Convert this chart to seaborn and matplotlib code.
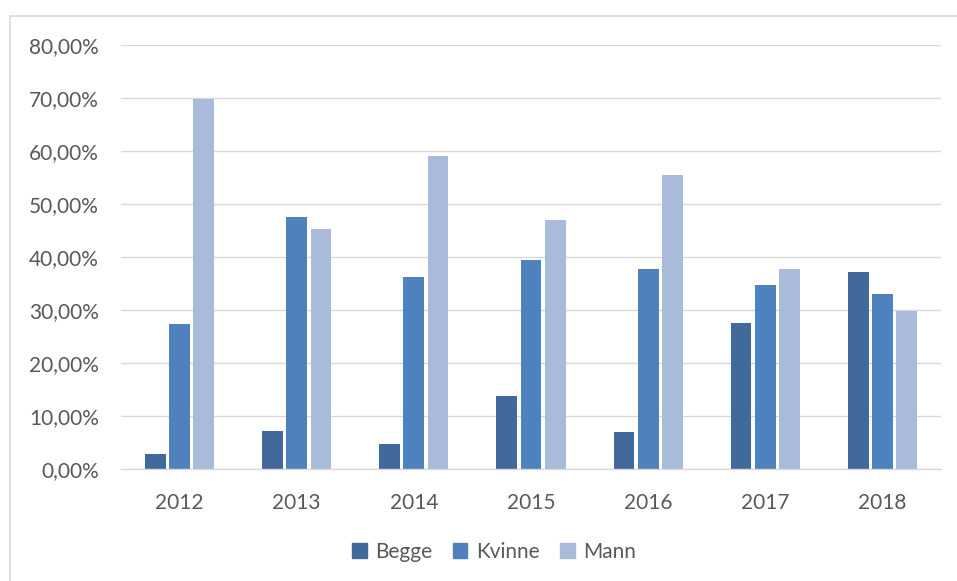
import matplotlib
matplotlib.use("Agg")
import matplotlib.pyplot as plt
import matplotlib.ticker as mticker
from matplotlib.lines import Line2D
import seaborn as sns
import pandas as pd

years = ["2012", "2013", "2014", "2015", "2016", "2017", "2018"]
series = ["Begge", "Kvinne", "Mann"]
begge = [2.8, 7.2, 4.7, 13.8, 7.0, 27.6, 37.2]
kvinne = [27.4, 47.5, 36.2, 39.4, 37.7, 34.7, 33.0]
mann = [69.8, 45.3, 59.1, 46.9, 55.4, 37.7, 29.8]
colors = ["#41699B", "#4F81BD", "#AABADA"]

rows = []
for name, vals in zip(series, [begge, kvinne, mann]):
    for y, v in zip(years, vals):
        rows.append({"År": y, "Gruppe": name, "Andel": v})
df = pd.DataFrame(rows)

sns.set_theme(style="white")
plt.rcParams["font.family"] = ["Lato", "DejaVu Sans"]
text_color = "#595959"
grid_color = "#D9D9D9"

fig = plt.figure(figsize=(9.57, 5.81), dpi=100)
ax = fig.add_axes([121 / 957, 1 - 469 / 581, (941 - 121) / 957, (469 - 45) / 581])

sns.barplot(data=df, x="År", y="Andel", hue="Gruppe", order=years,
            hue_order=series, palette=colors, width=0.62, gap=0.14,
            saturation=1, ax=ax, legend=False, edgecolor="none")

ax.set_ylim(0, 80)
ax.set_yticks(range(0, 81, 10))
ax.yaxis.set_major_formatter(mticker.FuncFormatter(lambda v, p: f"{v:.2f}%".replace(".", ",")))
ax.grid(axis="y", color=grid_color, linewidth=1.0)
ax.set_axisbelow(True)
for s in ["top", "right", "left"]:
    ax.spines[s].set_visible(False)
ax.spines["bottom"].set_color(grid_color)
ax.spines["bottom"].set_linewidth(1.0)
ax.tick_params(axis="both", length=0, labelsize=15, colors=text_color)
ax.tick_params(axis="y", pad=16)
ax.tick_params(axis="x", pad=17)
ax.set_xlabel("")
ax.set_ylabel("")

handles = [plt.Rectangle((0, 0), 1, 1, color=c) for c in colors]
leg = fig.legend(handles, series, loc="center", bbox_to_anchor=(494 / 957, 1 - 552 / 581),
                 ncol=3, frameon=False, fontsize=15, handlelength=0.7, handleheight=0.7,
                 handletextpad=0.4, columnspacing=1.0)
for t in leg.get_texts():
    t.set_color(text_color)

# outer chart border
fig.add_artist(Line2D([10 / 957, 10 / 957], [0, 1 - 16 / 581], color=grid_color,
                      linewidth=1.2, transform=fig.transFigure))
fig.add_artist(Line2D([10 / 957, 1], [1 - 16 / 581, 1 - 16 / 581], color=grid_color,
                      linewidth=1.2, transform=fig.transFigure))

fig.savefig("out.png", dpi=100, facecolor="white")
